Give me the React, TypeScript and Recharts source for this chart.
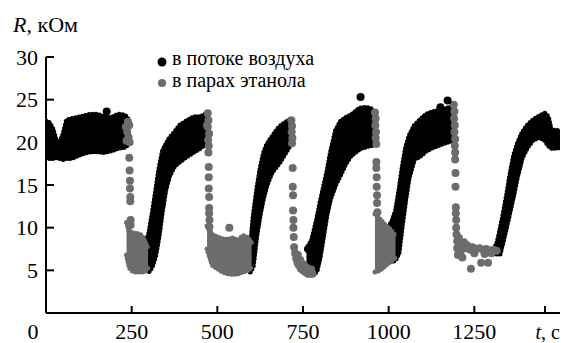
import { Area, ComposedChart, Scatter, XAxis, YAxis } from 'recharts';

// time axis ticks and resistance ticks
const xTicks = [0, 250, 500, 750, 1000, 1250, 1500];
const yTicks = [5, 10, 15, 20, 25, 30];

// air flow (black cloud): time, lower edge, upper edge of each stretch
const airT1 = [0, 10, 20, 30, 40, 50, 60, 75, 90, 110, 130, 150, 170, 190, 210, 230, 242];
const airLo1 = [18.2, 18.1, 18.1, 18.2, 18.1, 18.0, 18.1, 18.1, 18.4, 18.7, 18.9, 18.9, 18.8, 19.0, 19.3, 19.4, 19.8];
const airHi1 = [22.5, 22.3, 21.6, 20.2, 20.0, 21.0, 22.6, 22.8, 22.9, 23.1, 23.3, 23.3, 23.0, 22.9, 23.3, 23.2, 22.6];

const airT2 = [293, 300, 310, 320, 330, 340, 350, 360, 375, 390, 410, 430, 450, 470, 478];
const airLo2 = [5.0, 4.8, 5.4, 6.7, 9.0, 12.0, 14.5, 16.0, 17.2, 17.7, 18.3, 18.8, 19.3, 19.9, 20.3];
const airHi2 = [8.5, 9.3, 11.7, 14.3, 17.0, 19.0, 19.8, 20.5, 21.2, 22.0, 22.5, 23.0, 23.0, 23.4, 23.3];

const airT3 = [596, 605, 615, 625, 635, 645, 660, 680, 700, 718];
const airLo3 = [4.8, 5.5, 9.0, 11.5, 13.5, 15.0, 16.5, 17.5, 18.8, 20.0];
const airHi3 = [7.5, 11.5, 14.5, 17.0, 18.8, 19.8, 20.7, 21.8, 22.4, 22.8];

const airT4 = [760, 775, 790, 800, 810, 820, 830, 845, 860, 875, 890, 915, 935, 958];
const airLo4 = [5.0, 4.6, 4.8, 6.5, 9.0, 11.5, 13.3, 15.0, 16.2, 17.5, 18.4, 19.2, 19.5, 19.7];
const airHi4 = [7.5, 8.5, 11.0, 13.0, 14.8, 16.6, 18.8, 21.4, 22.5, 22.9, 23.2, 24.0, 24.1, 23.8];

const airT5 = [995, 1010, 1020, 1030, 1040, 1050, 1060, 1075, 1090, 1110, 1130, 1150, 1170, 1188];
const airLo5 = [6.0, 6.0, 6.2, 7.0, 10.3, 13.3, 15.9, 18.0, 18.3, 19.0, 19.4, 19.7, 20.0, 20.2];
const airHi5 = [9.8, 10.8, 12.0, 14.4, 17.2, 19.5, 20.8, 22.0, 22.6, 23.3, 23.6, 23.8, 24.0, 24.2];

const airT6 = [1305, 1315, 1325, 1335, 1345, 1355, 1365, 1375, 1390, 1405, 1420, 1440, 1456, 1466, 1474, 1485, 1500];
const airLo6 = [7.0, 6.9, 6.9, 8.5, 10.2, 12.0, 13.8, 15.8, 18.2, 19.4, 20.2, 20.6, 20.2, 19.6, 19.3, 19.3, 19.4];
const airHi6 = [7.6, 8.0, 9.8, 11.8, 14.0, 16.5, 18.5, 19.8, 21.2, 22.0, 22.6, 23.1, 23.4, 23.0, 21.5, 21.4, 21.4];

// stray air points
const airDotT = [177, 765, 918, 1151, 1172];
const airDotR = [23.6, 7.5, 25.3, 24.1, 24.9];

// ethanol vapour (grey): dense low clouds
const ethCloudT1 = [235, 243, 255, 268, 280, 290, 298];
const ethCloudLo1 = [6.8, 5.3, 4.8, 4.8, 4.8, 4.9, 5.3];
const ethCloudHi1 = [10.6, 9.6, 9.4, 9.3, 9.1, 8.3, 7.5];

const ethCloudT2 = [470, 485, 500, 515, 530, 545, 560, 575, 590, 600];
const ethCloudLo2 = [7.5, 5.6, 5.2, 4.8, 4.6, 4.5, 4.6, 4.8, 5.0, 5.4];
const ethCloudHi2 = [10.2, 9.2, 8.9, 8.7, 8.6, 8.8, 8.5, 9.1, 8.8, 8.2];

const ethCloudT4 = [960, 975, 990, 1005, 1020];
const ethCloudLo4 = [4.8, 5.0, 5.5, 6.0, 6.5];
const ethCloudHi4 = [11.6, 11.0, 10.3, 9.8, 9.0];

// ethanol vapour (grey): single points
const eth1T = [233, 237, 241, 235, 243, 239, 244, 243, 244, 245, 245, 246, 246, 247, 247];
const eth1R = [21.8, 21.2, 20.6, 20.2, 22.0, 22.4, 20.0, 18.2, 16.7, 15.5, 14.6, 13.6, 13.1, 10.9, 10.3];

const eth2T = [472, 474, 472, 476, 473, 475, 474, 470, 475, 475, 475, 476, 476, 476, 477, 477, 535];
const eth2R = [23.4, 22.6, 21.8, 21.0, 20.3, 19.6, 18.8, 22.0, 17.1, 15.9, 14.6, 13.6, 12.3, 11.7, 10.9, 10.1, 10.0];

const eth3T = [716, 718, 717, 719, 718, 720, 720, 721, 721, 722, 722, 723, 724, 727, 730, 734, 738, 744, 750, 757, 764, 771, 778, 735, 742, 750, 758, 766, 774];
const eth3R = [22.6, 21.9, 21.2, 20.5, 19.9, 17.0, 14.8, 13.8, 12.0, 10.9, 10.0, 8.9, 7.7, 7.0, 6.4, 5.9, 5.6, 5.2, 5.0, 4.8, 4.6, 4.6, 4.6, 6.8, 6.2, 5.7, 5.4, 5.2, 5.1];

const eth4T = [960, 962, 961, 963, 962, 964, 964, 964, 965, 965, 966, 966, 967];
const eth4R = [23.5, 22.8, 22.0, 21.2, 20.5, 19.8, 17.7, 17.0, 15.9, 14.8, 13.8, 12.9, 11.8];

const eth5T = [1190, 1192, 1191, 1193, 1192, 1194, 1193, 1194, 1194, 1195, 1195, 1196, 1196, 1197, 1197, 1198, 1200, 1200, 1202, 1205, 1210, 1210, 1215, 1220, 1225, 1230, 1238, 1245, 1255, 1265, 1275, 1285, 1295, 1305, 1315, 1240, 1270, 1290, 1250, 1280, 1300];
const eth5R = [24.4, 23.6, 22.8, 22.0, 21.2, 20.4, 19.6, 18.8, 18.0, 16.4, 14.8, 12.4, 11.7, 10.9, 10.0, 9.2, 8.4, 7.6, 6.8, 8.8, 8.0, 7.2, 6.5, 8.3, 7.6, 7.9, 7.4, 7.7, 7.5, 7.6, 7.4, 7.5, 7.3, 7.4, 7.3, 5.2, 5.9, 5.9, 7.0, 6.9, 7.0];

const band = (t: number[], lo: number[], hi: number[]) => t.map((v, i) => ({ t: v, r: [lo[i], hi[i]] }));
const pts = (t: number[], r: number[]) => t.map((v, i) => ({ t: v, r: r[i] }));

const airBands = [
  band(airT1, airLo1, airHi1),
  band(airT2, airLo2, airHi2),
  band(airT3, airLo3, airHi3),
  band(airT4, airLo4, airHi4),
  band(airT5, airLo5, airHi5),
  band(airT6, airLo6, airHi6),
];
const ethBands = [
  band(ethCloudT1, ethCloudLo1, ethCloudHi1),
  band(ethCloudT2, ethCloudLo2, ethCloudHi2),
  band(ethCloudT4, ethCloudLo4, ethCloudHi4),
];
const ethDots = [...pts(eth1T, eth1R), ...pts(eth2T, eth2R), ...pts(eth3T, eth3R), ...pts(eth4T, eth4R), ...pts(eth5T, eth5R)];
const airDots = pts(airDotT, airDotR);

const FONT = "'Liberation Serif', 'DejaVu Serif', serif";
const GREY = '#6c6c6c';

const XTick = (props: any) => {
  const { x, y, payload } = props;
  const v = payload.value;
  return (
    <g>
      {v !== 0 && <line x1={x} x2={x} y1={y} y2={y - 7} stroke="#000" strokeWidth={2} />}
      {v !== 1500 && (
        <text x={v === 0 ? x - 13 : x} y={y + 26} textAnchor="middle" fontSize={22} fontFamily={FONT} fill="#000">
          {v}
        </text>
      )}
    </g>
  );
};

const YTick = (props: any) => {
  const { x, y, payload } = props;
  return (
    <g>
      <line x1={x} x2={x + 8} y1={y} y2={y} stroke="#000" strokeWidth={2} />
      <text x={x - 8} y={y + 7.5} textAnchor="end" fontSize={22} fontFamily={FONT} fill="#000">
        {payload.value}
      </text>
    </g>
  );
};

const dot = (color: string) => (p: any) => <circle cx={p.cx} cy={p.cy} r={4} fill={color} />;

export default function App() {
  return (
    <div style={{ position: 'absolute', left: 0, top: 0, width: 561, height: 343, background: '#fff', fontFamily: FONT }}>
      <ComposedChart width={561} height={343} margin={{ top: 57, right: 1, bottom: 0, left: 0 }}>
        <XAxis
          type="number"
          dataKey="t"
          domain={[0, 1500]}
          ticks={xTicks}
          allowDataOverflow
          height={30}
          tickSize={0}
          tickMargin={0}
          tickLine={false}
          tick={<XTick />}
          axisLine={{ stroke: '#000', strokeWidth: 2 }}
        />
        <YAxis
          type="number"
          domain={[0, 30]}
          ticks={yTicks}
          allowDataOverflow
          width={46}
          tickSize={0}
          tickMargin={0}
          tickLine={false}
          tick={<YTick />}
          axisLine={{ stroke: '#000', strokeWidth: 2 }}
        />
        {airBands.map((d, i) => (
          <Area
            key={`air-${i}`}
            data={d}
            dataKey="r"
            type="linear"
            fill="#000"
            fillOpacity={1}
            stroke="#000"
            strokeWidth={5}
            strokeDasharray="0 3.5"
            strokeLinecap="round"
            isAnimationActive={false}
          />
        ))}
        {ethBands.map((d, i) => (
          <Area
            key={`eth-${i}`}
            data={d}
            dataKey="r"
            type="linear"
            fill={GREY}
            fillOpacity={1}
            stroke={GREY}
            strokeWidth={5}
            strokeDasharray="0 3.5"
            strokeLinecap="round"
            isAnimationActive={false}
          />
        ))}
        <Scatter data={ethDots} dataKey="r" shape={dot(GREY)} isAnimationActive={false} />
        <Scatter data={airDots} dataKey="r" shape={dot('#000')} isAnimationActive={false} />
      </ComposedChart>
      <svg width={561} height={343} style={{ position: 'absolute', left: 0, top: 0, pointerEvents: 'none' }}>
        <text x={13} y={32} fontSize={22} fontFamily={FONT} fill="#000">
          <tspan fontStyle="italic">R</tspan>, кОм
        </text>
        <circle cx={162} cy={62} r={4.5} fill="#000" />
        <text x={172} y={65} fontSize={20} fontFamily={FONT} fill="#000">в потоке воздуха</text>
        <circle cx={162} cy={83} r={4} fill={GREY} />
        <text x={172} y={87} fontSize={20} fontFamily={FONT} fill="#000">в парах этанола</text>
        <text x={560} y={339} fontSize={20} fontFamily={FONT} fill="#000" textAnchor="end">
          <tspan fontStyle="italic">t</tspan>, с
        </text>
      </svg>
    </div>
  );
}
